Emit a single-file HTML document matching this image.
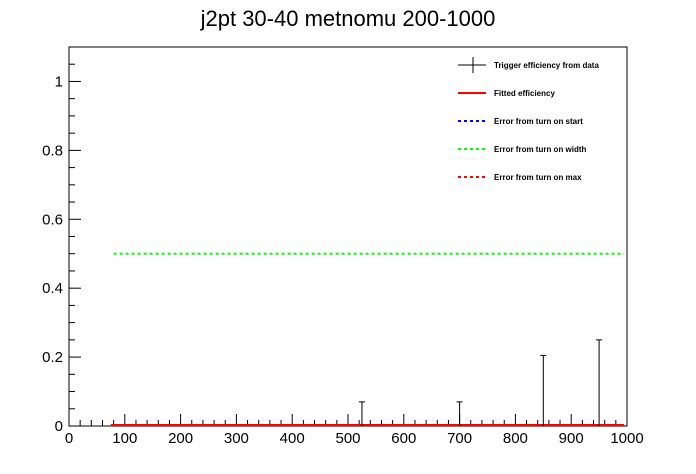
<!DOCTYPE html>
<html><head><meta charset="utf-8"><style>
body{margin:0;background:#fff;}
svg{display:block;font-family:"Liberation Sans",sans-serif;}
</style></head><body>
<svg id="c" width="696" height="474">
<text x="348" y="26" text-anchor="middle" font-size="22">j2pt 30-40 metnomu 200-1000</text>
<rect x="69" y="47" width="558" height="379" fill="none" stroke="#000" stroke-width="1"/>
<g id="axes"></g>
<g id="marks"></g>
<g font-size="8" font-weight="bold">
 <line x1="458" y1="65" x2="486" y2="65" stroke="#000"/>
 <line x1="473" y1="57" x2="473" y2="73" stroke="#000"/>
 <text x="494" y="68">Trigger efficiency from data</text>
 <line x1="458" y1="93" x2="486" y2="93" stroke="#f00" stroke-width="2"/>
 <text x="494" y="96">Fitted efficiency</text>
 <line x1="458" y1="121" x2="486" y2="121" stroke="#00f" stroke-width="2" stroke-dasharray="3,3"/>
 <text x="494" y="124">Error from turn on start</text>
 <line x1="458" y1="149" x2="486" y2="149" stroke="#0f0" stroke-width="2" stroke-dasharray="3,3"/>
 <text x="494" y="152">Error from turn on width</text>
 <line x1="458" y1="177" x2="486" y2="177" stroke="#f00" stroke-width="2" stroke-dasharray="3,3"/>
 <text x="494" y="180">Error from turn on max</text>
</g>
</svg>
<script>
const xTicks=[0,100,200,300,400,500,600,700,800,900,1000];
const yTicks=[0,0.2,0.4,0.6,0.8,1];
const yTickLabels=["0","0.2","0.4","0.6","0.8","1"];
const pointX=[525,700,850,950];
const pointErrHigh=[0.07,0.07,0.205,0.25];
const fitRange=[75,995];
const fitValue=0;
const widthErrRange=[80,995];
const widthErrValue=0.5;
const NS="http://www.w3.org/2000/svg";
const X0=69,X1=627,Y0=426,Y1=47,YMAX=1.1;
function sx(v){return X0+(v/1000)*(X1-X0);}
function sy(v){return Y0-(v/YMAX)*(Y0-Y1);}
function mk(tag,attrs,parent){const e=document.createElementNS(NS,tag);for(const k in attrs)e.setAttribute(k,attrs[k]);parent.appendChild(e);return e;}
const ax=document.getElementById('axes');
for(let v=0;v<=1000;v+=20){const maj=v%100===0;const l=mk('line',{x1:sx(v),x2:sx(v),y1:Y0,y2:Y0-(maj?12:6),stroke:'#000'},ax);

}
xTicks.forEach(v=>{const t=mk('text',{x:sx(v),y:443,'text-anchor':'middle','font-size':'15'},ax);t.textContent=v;

});
for(let i=0;i<=22;i++){const v=i*0.05;const maj=i%4===0;const l=mk('line',{x1:X0,x2:X0+(maj?12:6),y1:sy(v),y2:sy(v),stroke:'#000'},ax);

}
yTicks.forEach((v,i)=>{const t=mk('text',{x:63,y:sy(v)+5,'text-anchor':'end','font-size':'15'},ax);t.textContent=yTickLabels[i];

});
const mg=document.getElementById('marks');
const g=mk('line',{x1:sx(widthErrRange[0]),x2:sx(widthErrRange[1]),y1:sy(widthErrValue),y2:sy(widthErrValue),stroke:'#0f0','stroke-width':2,'stroke-dasharray':'3,3'},mg);


const f=mk('line',{x1:sx(fitRange[0]),x2:sx(fitRange[1]),y1:sy(fitValue)-1,y2:sy(fitValue)-1,stroke:'#f00','stroke-width':2},mg);


pointX.forEach((x,i)=>{const gg=mk('g',{},mg);


mk('line',{x1:sx(x),x2:sx(x),y1:sy(0),y2:sy(pointErrHigh[i]),stroke:'#000'},gg);
mk('line',{x1:sx(x)-3,x2:sx(x)+3,y1:sy(pointErrHigh[i]),y2:sy(pointErrHigh[i]),stroke:'#000'},gg);});
</script>
</body></html>
